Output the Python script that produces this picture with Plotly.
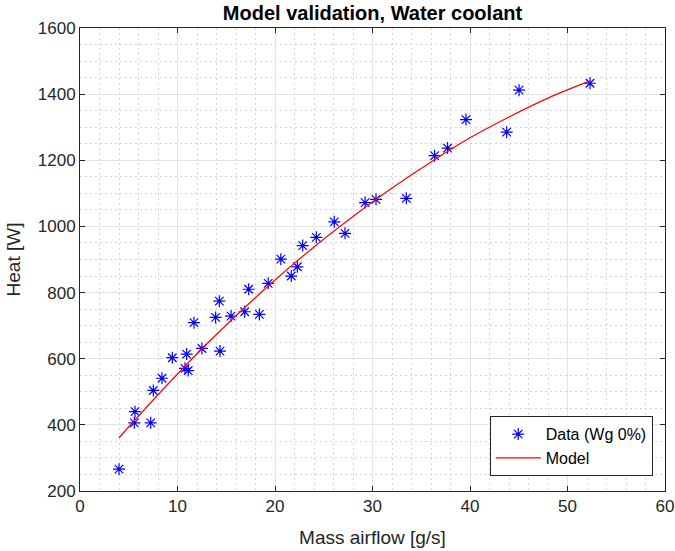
import plotly.graph_objects as go

# Measured data (Wg 0%)
data_x = [4.0, 5.57, 5.64, 7.25, 7.52, 8.41, 9.47, 10.77, 11.1, 10.94, 11.69, 12.51,
          13.91, 14.29, 14.36, 15.49, 16.89, 17.3, 18.4, 19.3, 20.6, 21.67, 22.29,
          22.84, 24.24, 26.08, 27.18, 29.24, 30.36, 33.47, 36.37, 37.7, 39.59,
          43.76, 45.03, 52.31]
data_y = [266, 406, 440, 406, 504, 541, 603, 571, 564, 614, 709, 631,
          725, 774, 623, 729, 742, 810, 734, 828, 901, 850, 878,
          942, 967, 1014, 979, 1072, 1082, 1085, 1214, 1237, 1323,
          1285, 1412, 1433]

# Model curve
model_x = [4, 8, 12, 16, 20, 24, 28, 32, 36, 40, 44, 48, 52.3]
model_y = [361, 491, 615, 730, 838, 938, 1030, 1116, 1195, 1268, 1331, 1388, 1440]

x_ticks = [0, 10, 20, 30, 40, 50, 60]
y_ticks = [200, 400, 600, 800, 1000, 1200, 1400, 1600]

FONT = "Liberation Sans, Arial, sans-serif"
AXC = "#262626"

fig = go.Figure()
fig.add_trace(go.Scatter(
    x=data_x, y=data_y, mode="markers", name="Data (Wg 0%)",
    marker=dict(symbol="asterisk-open", size=10, color="#0000ff",
                line=dict(color="#0000ff", width=1.2)),
))
fig.add_trace(go.Scatter(
    x=model_x, y=model_y, mode="lines", name="Model",
    line=dict(color="#ff0000", width=1.2, shape="spline"),
))

axis_common = dict(
    showline=True, linecolor=AXC, linewidth=1, mirror="ticks",
    ticks="inside", ticklen=5, tickcolor=AXC, tickwidth=1,
    showgrid=True, gridcolor="#e3e3e3", gridwidth=1,
    zeroline=False, automargin=False,
    tickfont=dict(family=FONT, size=17, color=AXC),
)
minor_common = dict(showgrid=True, gridcolor="#d6d6d6", griddash="1.5px,3.5px", gridwidth=1)

fig.update_xaxes(
    range=[0, 60], tickvals=x_ticks,
    title=dict(text="Mass airflow [g/s]", font=dict(family=FONT, size=19, color=AXC), standoff=15),
    minor=dict(dtick=2, **minor_common),
    **axis_common,
)
fig.update_yaxes(
    range=[200, 1600], tickvals=y_ticks,
    title=dict(text="Heat [W]", font=dict(family=FONT, size=19, color=AXC), standoff=12),
    minor=dict(dtick=50, **minor_common),
    **axis_common,
)

fig.update_layout(
    width=675, height=551,
    margin=dict(l=80, r=10, t=28, b=60),
    paper_bgcolor="white", plot_bgcolor="white",
    title=dict(text="<b>Model validation, Water coolant</b>",
               font=dict(family=FONT, size=20, color="black"),
               x=(80 + 585 / 2) / 675, xanchor="center", y=1 - 13 / 551, yanchor="middle"),
    legend=dict(
        x=0.979, y=0.032, xanchor="right", yanchor="bottom",
        bgcolor="white", bordercolor=AXC, borderwidth=1,
        font=dict(family=FONT, size=16, color="black"),
        tracegroupgap=0, itemwidth=45,
    ),
    showlegend=True,
)

fig.write_html("out.html")
